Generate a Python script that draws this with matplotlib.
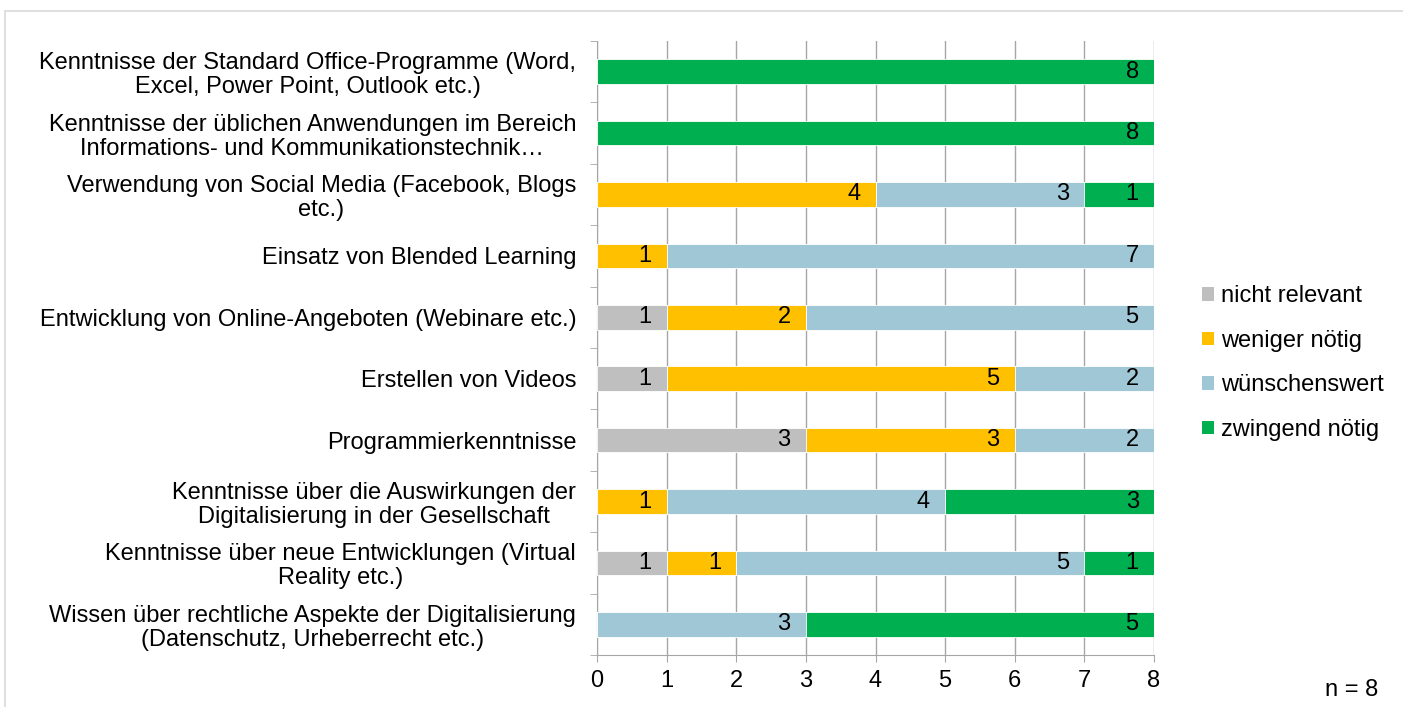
import matplotlib.pyplot as plt
import numpy as np
from matplotlib.patches import Rectangle, Patch
from matplotlib.ticker import FixedLocator

plt.rcParams['font.family'] = ['Liberation Sans', 'DejaVu Sans']

# Kategorien von oben nach unten
kategorien = [
    'Kenntnisse der Standard Office-Programme (Word,\nExcel, Power Point, Outlook etc.)',
    'Kenntnisse der üblichen Anwendungen im Bereich\nInformations- und Kommunikationstechnik…',
    'Verwendung von Social Media (Facebook, Blogs\netc.)',
    'Einsatz von Blended Learning',
    'Entwicklung von Online-Angeboten (Webinare etc.)',
    'Erstellen von Videos',
    'Programmierkenntnisse',
    'Kenntnisse über die Auswirkungen der\nDigitalisierung in der Gesellschaft',
    'Kenntnisse über neue Entwicklungen (Virtual\nReality etc.)',
    'Wissen über rechtliche Aspekte der Digitalisierung\n(Datenschutz, Urheberrecht etc.)',
]

nicht_relevant = [0, 0, 0, 0, 1, 1, 3, 0, 1, 0]
weniger_noetig = [0, 0, 4, 1, 2, 5, 3, 1, 1, 0]
wuenschenswert = [0, 0, 3, 7, 5, 2, 2, 4, 5, 3]
zwingend_noetig = [8, 8, 1, 0, 0, 0, 0, 3, 1, 5]

serien = ['nicht relevant', 'weniger nötig', 'wünschenswert', 'zwingend nötig']
farben = ['#BFBFBF', '#FFC000', '#9FC7D5', '#00B050']

fs = 17

fig = plt.figure(figsize=(14.03, 7.07), dpi=100)
ax = fig.add_axes([597/1403, 52/707, 557/1403, 614/707])

# Rahmen um das Diagramm
fig.patches.append(Rectangle((5/1403, -0.1), 1.2, 1.1 - 11/707, transform=fig.transFigure,
                             fill=False, edgecolor='#D9D9D9', lw=1.2, zorder=0))

y = np.arange(len(kategorien))
links = np.zeros(len(kategorien))
for name, werte, farbe in zip(serien, [nicht_relevant, weniger_noetig, wuenschenswert, zwingend_noetig], farben):
    werte = np.array(werte)
    ax.barh(y, werte, left=links, height=0.4, color=farbe, edgecolor='white', linewidth=0.6, zorder=3)
    for i, w in enumerate(werte):
        if w > 0:
            ax.annotate(str(w), (links[i] + w, y[i]), xytext=(-11, 0), textcoords='offset points',
                        ha='right', va='center', fontsize=fs, color='black', zorder=4)
    links = links + werte

ax.set_xlim(0, 8)
ax.set_ylim(len(kategorien) - 0.5, -0.5)
ax.set_xticks(range(9))
ax.tick_params(axis='x', labelsize=fs, length=5, color='#A6A6A6', pad=6)
ax.set_yticks(y)
ax.set_yticklabels(kategorien, fontsize=fs, multialignment='center', linespacing=1.12)
ax.tick_params(axis='y', which='major', length=0, pad=15)
ax.yaxis.set_minor_locator(FixedLocator(np.arange(-0.5, len(kategorien), 1)))
ax.tick_params(axis='y', which='minor', length=5, color='#A6A6A6')

ax.grid(axis='x', color='#A6A6A6', lw=1, zorder=0)
ax.set_axisbelow(True)
for s in ['top', 'right']:
    ax.spines[s].set_visible(False)
for s in ['left', 'bottom']:
    ax.spines[s].set_color('#A6A6A6')

handles = [Patch(facecolor=f, edgecolor='none') for f in farben]
fig.legend(handles, serien, loc='center left', bbox_to_anchor=(1181/1403, 1 - 363/707),
           frameon=False, fontsize=fs, handlelength=0.5, handleheight=0.5,
           handletextpad=0.3, labelspacing=0.95)

fig.text(1378/1403, 6/707, 'n = 8', ha='right', va='bottom', fontsize=fs)

fig.savefig('out.png', dpi=100)
